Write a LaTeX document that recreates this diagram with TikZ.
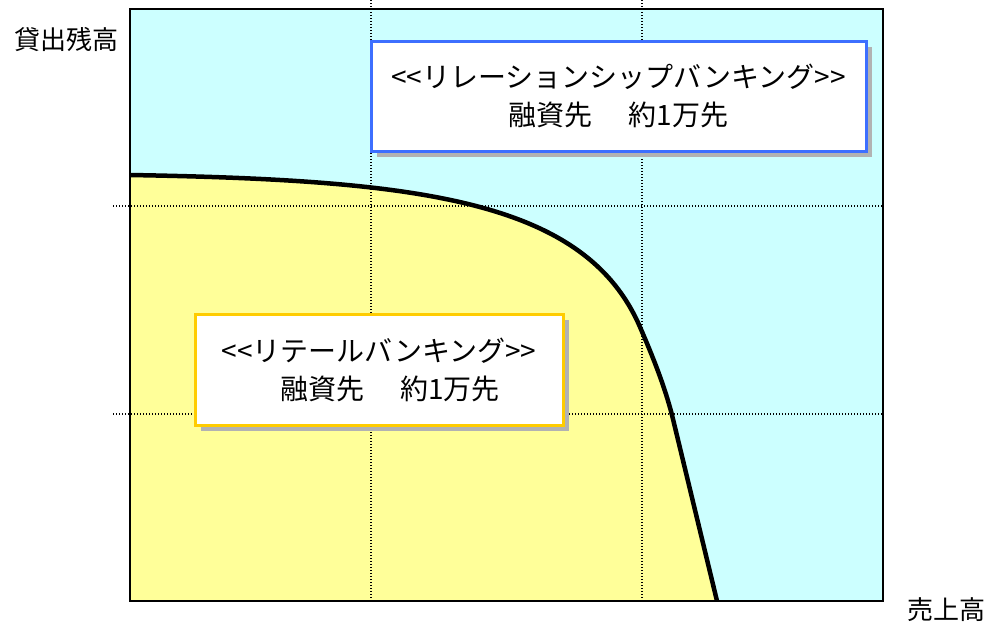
\documentclass[tikz,border=0pt]{standalone}
\usepackage{fontspec}
\setmainfont{Noto Sans CJK JP}
\usetikzlibrary{shadows}
\definecolor{bgcyan}{HTML}{CCFFFF}
\definecolor{fillyel}{HTML}{FFFF99}
\definecolor{boxblue}{HTML}{3D6FFF}
\definecolor{boxgold}{HTML}{FFCC00}
\definecolor{shadowgray}{HTML}{B2B2B2}
\newcommand{\lt}{<\kern0pt}
\newcommand{\gtr}{>\kern0pt}
\tikzset{
  gridline/.style={line width=1.3pt, dash pattern=on 1.4pt off 1.6pt},
  axislabel/.style={font=\fontsize{26}{30}\selectfont, inner sep=0pt},
  infobox/.style={fill=white, line width=3pt, align=center, inner sep=0pt,
    font=\fontsize{28}{38}\selectfont,
    drop shadow={shadow xshift=6pt, shadow yshift=-6pt, fill=shadowgray, opacity=1}},
}
\begin{document}
\begin{tikzpicture}[x=1pt,y=-1pt]
\useasboundingbox (0,0) rectangle (986,622);
\coordinate (c0) at (130,175);
\coordinate (c1) at (640,327);
\coordinate (c2) at (672,415);
\coordinate (c3) at (717,601);
\coordinate (bl) at (130,601);
% background
\fill[bgcyan] (130,9) rectangle (883,601);
% yellow area under curve
\fill[fillyel] (bl) -- (c0) .. controls (420,180) and (585,200) .. (c1)
  .. controls (653,357) and (664.5,386) .. (c2) -- (c3) -- cycle;
% grid lines
\coordinate (v1t) at (371,0); \coordinate (v1b) at (371,601);
\coordinate (v2t) at (642,0); \coordinate (v2b) at (642,601);
\coordinate (h1l) at (113,206); \coordinate (h1r) at (883,206);
\coordinate (h2l) at (113,414); \coordinate (h2r) at (883,414);
\draw[gridline] (v1t) -- (v1b);
\draw[gridline] (v2t) -- (v2b);
\draw[gridline] (h1l) -- (h1r);
\draw[gridline] (h2l) -- (h2r);
% curve
\draw[line width=4.5pt] (c0) .. controls (420,180) and (585,200) .. (c1)
  .. controls (653,357) and (664.5,386) .. (c2) -- (c3);
% frame
\draw[line width=2pt] (130,9) rectangle (883,601);
% boxes
\node[infobox, draw=boxblue, minimum width=495pt, minimum height=110pt] (rel) at (618.5,96)
  {\lt\lt リレーションシップバンキング\gtr\gtr\\融資先\hspace{1.3em}約1万先};
\node[infobox, draw=boxgold, minimum width=368pt, minimum height=111pt] (ret) at (379,369.5)
  {\lt\lt リテールバンキング\gtr\gtr\\\hspace*{22pt}融資先\hspace{1.3em}約1万先};
% axis labels
\node[axislabel] (ylab) at (66,40) {貸出残高};
\node[axislabel] (xlab) at (946,610) {売上高};
\end{tikzpicture}
\end{document}
